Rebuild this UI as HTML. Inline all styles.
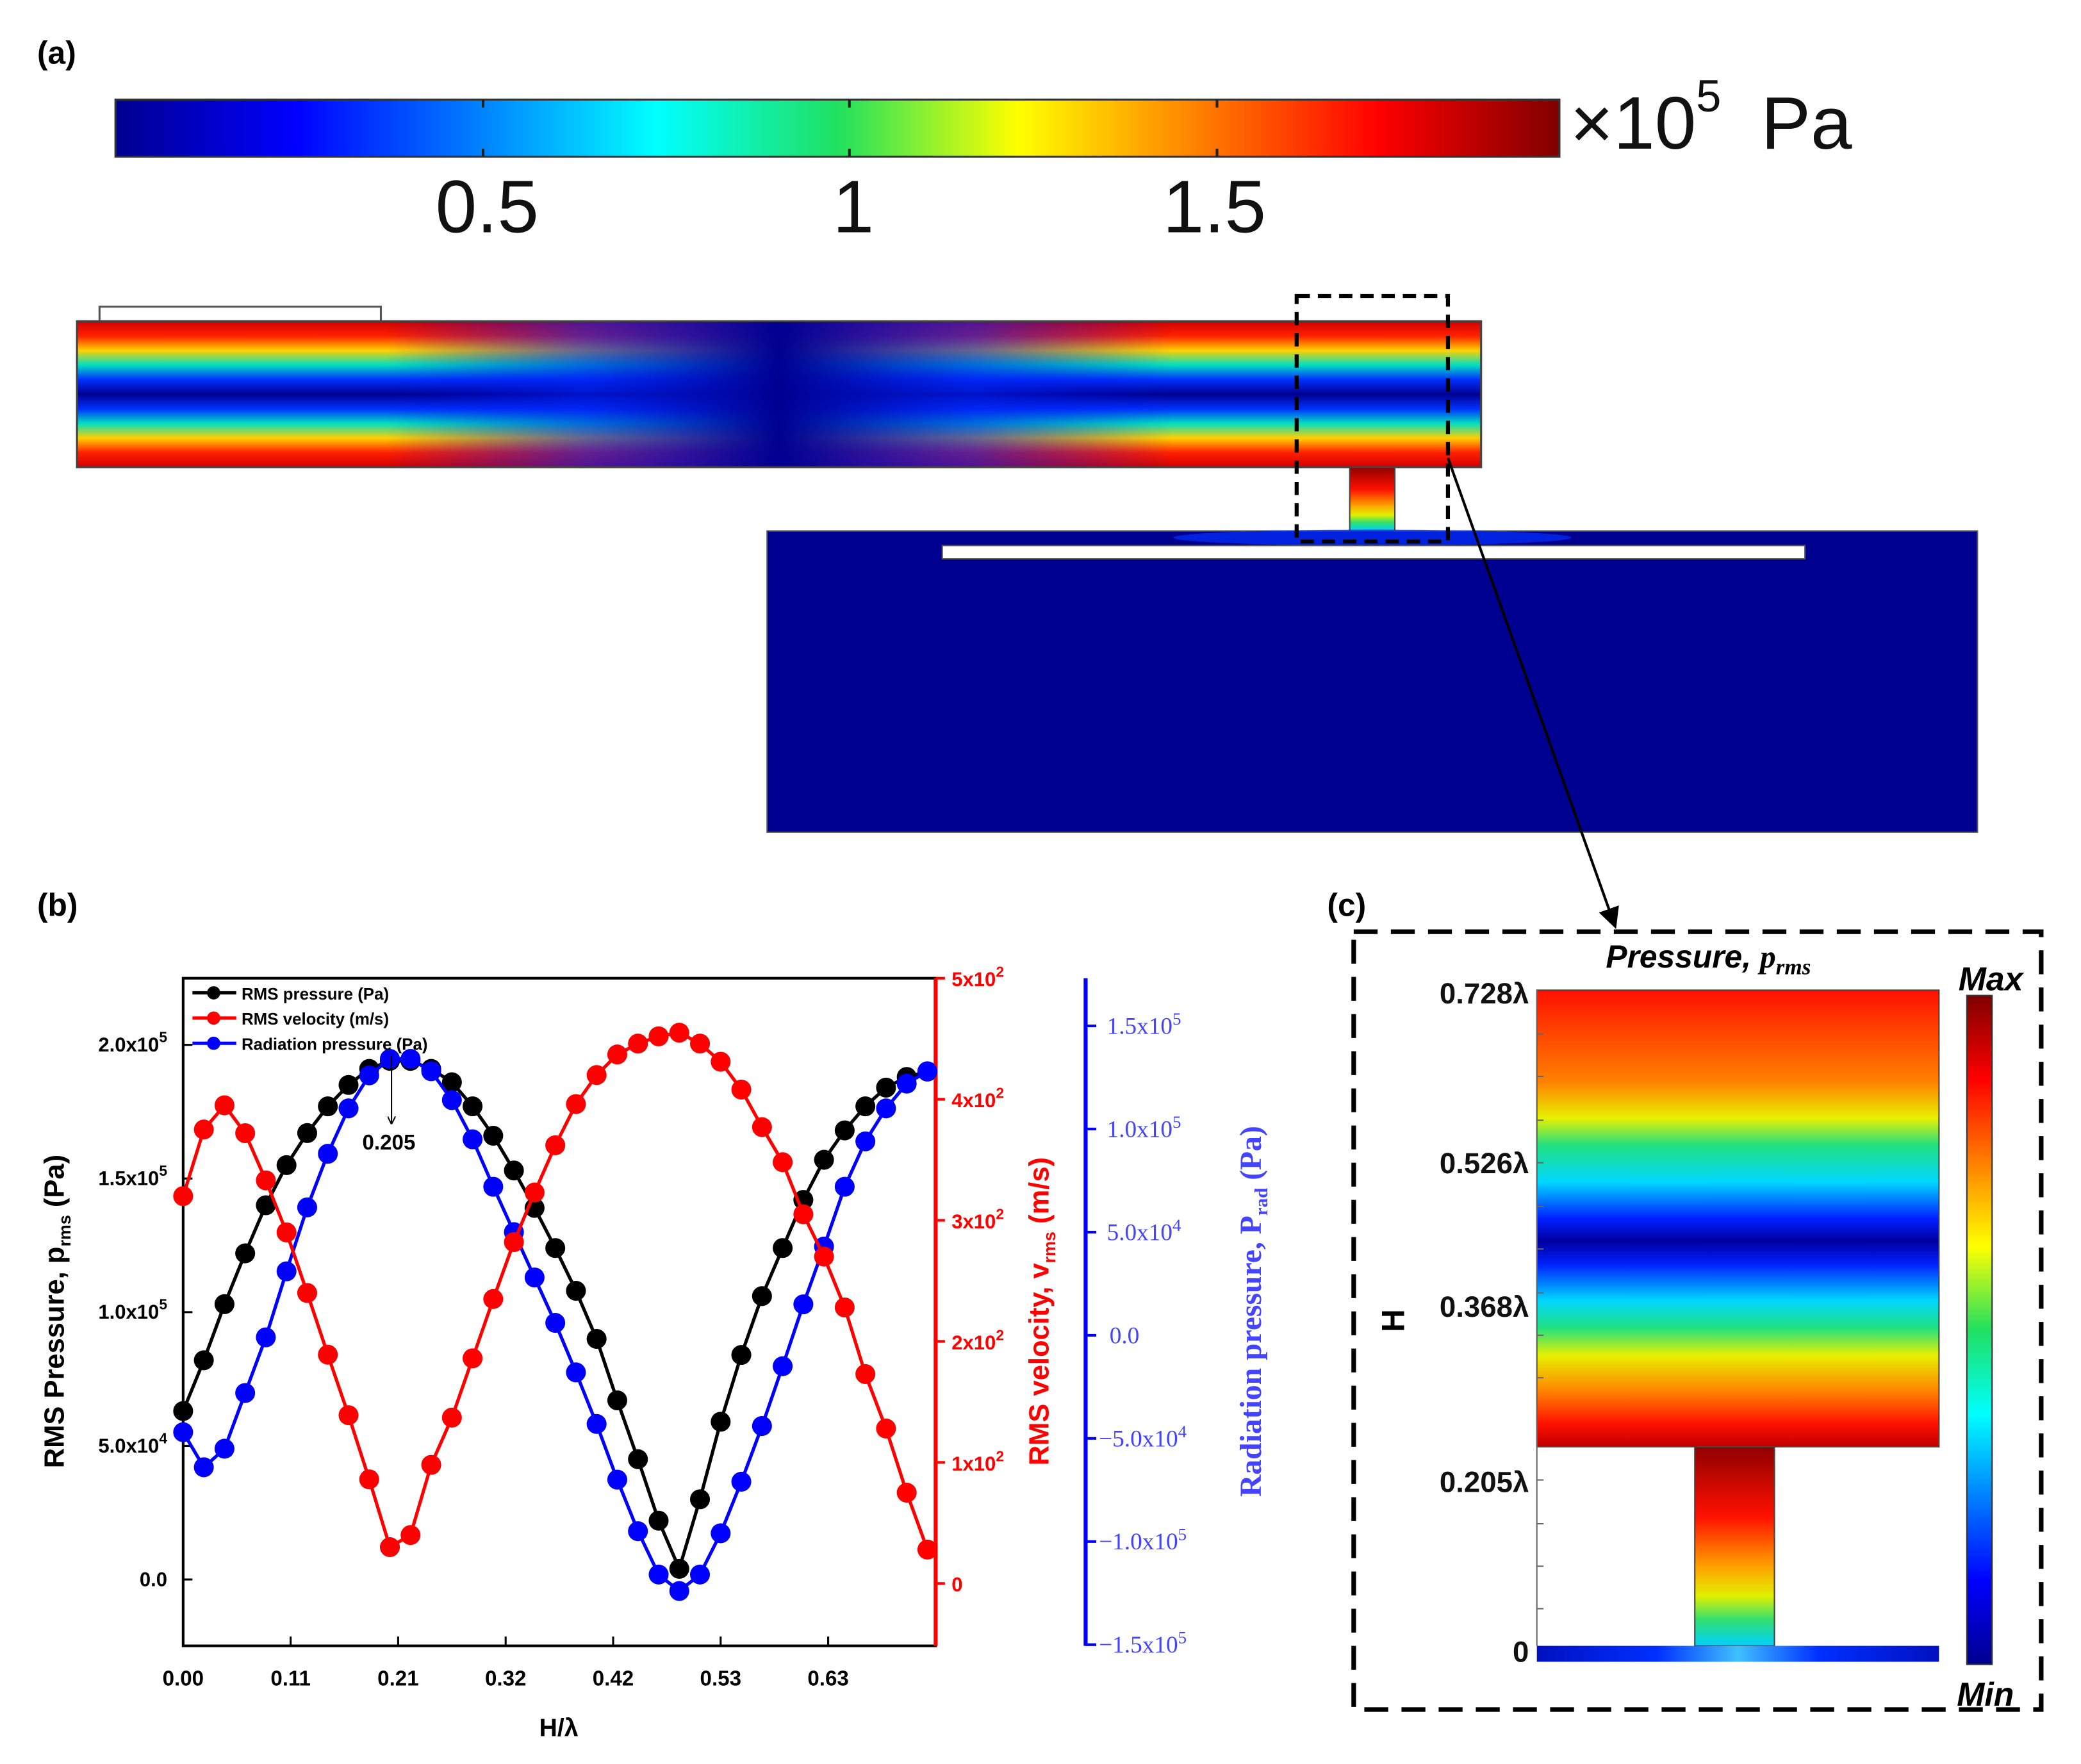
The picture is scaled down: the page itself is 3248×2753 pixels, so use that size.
<!DOCTYPE html>
<html><head><meta charset="utf-8"><style>
html,body{margin:0;padding:0;background:#fff;}
svg{display:block;}
text{font-family:"Liberation Sans",sans-serif;}
.serif{font-family:"Liberation Serif",serif;}
</style></head><body>
<svg id="fig" width="3248" height="2753" viewBox="0 0 1568 1329" xmlns="http://www.w3.org/2000/svg">
<defs>
<linearGradient id="jetH" x1="0" x2="1" y1="0" y2="0">
<stop offset="0" stop-color="#00008f"/><stop offset="0.125" stop-color="#0000ff"/><stop offset="0.375" stop-color="#00ffff"/><stop offset="0.5" stop-color="#20e060"/><stop offset="0.625" stop-color="#ffff00"/><stop offset="0.875" stop-color="#ff0000"/><stop offset="1" stop-color="#800000"/></linearGradient>
<linearGradient id="jetV" x1="0" x2="0" y1="1" y2="0">
<stop offset="0" stop-color="#00008f"/><stop offset="0.125" stop-color="#0000ff"/><stop offset="0.375" stop-color="#00ffff"/><stop offset="0.5" stop-color="#20e060"/><stop offset="0.625" stop-color="#ffff00"/><stop offset="0.875" stop-color="#ff0000"/><stop offset="1" stop-color="#800000"/></linearGradient>
<linearGradient id="tube" x1="0" x2="0" y1="0" y2="1">
<stop offset="0" stop-color="#d00000"/><stop offset="0.1" stop-color="#ff2000"/><stop offset="0.2" stop-color="#ffd000"/><stop offset="0.3" stop-color="#00e0c0"/><stop offset="0.4" stop-color="#0030ff"/><stop offset="0.5" stop-color="#000090"/><stop offset="0.6" stop-color="#0030ff"/><stop offset="0.7" stop-color="#00e0c0"/><stop offset="0.8" stop-color="#ffd000"/><stop offset="0.9" stop-color="#ff2000"/><stop offset="1" stop-color="#d00000"/></linearGradient>
<linearGradient id="tubeMask" x1="0" x2="1" y1="0" y2="0">
<stop offset="0" stop-color="#0010e0" stop-opacity="0"/><stop offset="0.22" stop-color="#0010e0" stop-opacity="0"/><stop offset="0.36" stop-color="#0020f0" stop-opacity="0.6"/><stop offset="0.5" stop-color="#000090" stop-opacity="1"/><stop offset="0.64" stop-color="#0020f0" stop-opacity="0.6"/><stop offset="0.78" stop-color="#0010e0" stop-opacity="0"/><stop offset="1" stop-color="#0010e0" stop-opacity="0"/></linearGradient>
<linearGradient id="cTop" x1="0" x2="0" y1="0" y2="1">
<stop offset="0" stop-color="#ff1000"/><stop offset="0.2" stop-color="#ff8000"/><stop offset="0.28" stop-color="#e8f000"/><stop offset="0.34" stop-color="#20e080"/><stop offset="0.42" stop-color="#00d8ff"/><stop offset="0.5" stop-color="#0020ff"/><stop offset="0.55" stop-color="#0000a0"/><stop offset="0.6" stop-color="#0020ff"/><stop offset="0.68" stop-color="#00d8ff"/><stop offset="0.74" stop-color="#20e080"/><stop offset="0.8" stop-color="#e8f000"/><stop offset="0.88" stop-color="#ff8000"/><stop offset="0.95" stop-color="#ff1000"/><stop offset="1" stop-color="#c00000"/></linearGradient>
<linearGradient id="cStem" x1="0" x2="0" y1="0" y2="1">
<stop offset="0" stop-color="#900000"/><stop offset="0.35" stop-color="#ff1000"/><stop offset="0.6" stop-color="#ffa000"/><stop offset="0.75" stop-color="#e0f000"/><stop offset="0.87" stop-color="#30e070"/><stop offset="1" stop-color="#00d0ff"/></linearGradient>
<linearGradient id="cBase" x1="0" x2="1" y1="0" y2="0">
<stop offset="0" stop-color="#0010c0"/><stop offset="0.3" stop-color="#0030ff"/><stop offset="0.5" stop-color="#40c0ff"/><stop offset="0.7" stop-color="#0030ff"/><stop offset="1" stop-color="#0010c0"/></linearGradient>
<marker id="ah" markerWidth="8" markerHeight="8" refX="7" refY="4" orient="auto"><path d="M0,0 L8,4 L0,8 z" fill="#000"/></marker>
<marker id="ahs" markerWidth="6" markerHeight="6" refX="5" refY="3" orient="auto"><path d="M0,0 L6,3 L0,6" fill="none" stroke="#000" stroke-width="1"/></marker>
</defs>

<!-- Panel (a) -->
<text x="28" y="48" font-size="24" font-weight="bold">(a)</text>
<rect x="87" y="75" width="1088" height="43" fill="url(#jetH)" stroke="#333" stroke-width="1.5"/>
<g stroke="#222" stroke-width="2">
<line x1="364" y1="75" x2="364" y2="81"/><line x1="364" y1="112" x2="364" y2="118"/>
<line x1="640" y1="75" x2="640" y2="81"/><line x1="640" y1="112" x2="640" y2="118"/>
<line x1="917" y1="75" x2="917" y2="81"/><line x1="917" y1="112" x2="917" y2="118"/></g>
<text x="367" y="175" font-size="56" text-anchor="middle" fill="#111">0.5</text>
<text x="643" y="175" font-size="56" text-anchor="middle" fill="#111">1</text>
<text x="915" y="175" font-size="56" text-anchor="middle" fill="#111">1.5</text>
<text x="1183" y="112" font-size="56" fill="#111">×10<tspan font-size="34" dy="-28">5</tspan><tspan dy="28" dx="30">Pa</tspan></text>

<rect x="75" y="231" width="212" height="11" fill="#fff" stroke="#555" stroke-width="1.5"/>
<rect x="58" y="242" width="1058" height="110" fill="url(#tube)"/>
<rect x="58" y="242" width="1058" height="110" fill="url(#tubeMask)"/>
<rect x="58" y="242" width="1058" height="110" fill="none" stroke="#444" stroke-width="1.5"/>
<rect x="1017" y="352" width="34" height="48" fill="url(#cStem)" stroke="#444" stroke-width="1"/>
<rect x="578" y="400" width="912" height="227" fill="#000090" stroke="#555" stroke-width="1"/>
<ellipse cx="1034" cy="405" rx="150" ry="6" fill="#0030ff" opacity="0.7"/>
<rect x="710" y="411" width="650" height="10" fill="#fff" stroke="#555" stroke-width="1"/>
<rect x="977" y="223" width="114" height="185" fill="none" stroke="#000" stroke-width="3" stroke-dasharray="10,6"/>
<line x1="1091" y1="345" x2="1217" y2="698" stroke="#000" stroke-width="2" marker-end="url(#ah)"/>

<!-- Panel (b) -->
<text x="28" y="690" font-size="24" font-weight="bold">(b)</text>
<g id="chart"></g>

<!-- Panel (c) -->
<text x="1000" y="690" font-size="24" font-weight="bold">(c)</text>
<rect x="1020" y="702" width="518" height="586" fill="none" stroke="#000" stroke-width="3.5" stroke-dasharray="18,10"/>
<text x="1210" y="729" font-size="24" font-weight="bold" font-style="italic">Pressure, <tspan class="serif">p</tspan><tspan class="serif" font-size="17" dy="5">rms</tspan></text>
<rect x="1158" y="746" width="303" height="344" fill="url(#cTop)" stroke="#444" stroke-width="1"/>
<rect x="1277" y="1090" width="60" height="150" fill="url(#cStem)" stroke="#444" stroke-width="1"/>
<rect x="1158" y="1240" width="303" height="12" fill="url(#cBase)"/>
<line x1="1158" y1="746" x2="1158" y2="1240" stroke="#666" stroke-width="1"/>
<g stroke="#666" stroke-width="1">
<line x1="1158" y1="779" x2="1163" y2="779"/><line x1="1158" y1="811" x2="1163" y2="811"/><line x1="1158" y1="844" x2="1163" y2="844"/><line x1="1158" y1="876" x2="1163" y2="876"/><line x1="1158" y1="909" x2="1163" y2="909"/><line x1="1158" y1="941" x2="1163" y2="941"/><line x1="1158" y1="974" x2="1163" y2="974"/><line x1="1158" y1="1006" x2="1163" y2="1006"/><line x1="1158" y1="1038" x2="1163" y2="1038"/><line x1="1158" y1="1115" x2="1163" y2="1115"/><line x1="1158" y1="1148" x2="1163" y2="1148"/><line x1="1158" y1="1180" x2="1163" y2="1180"/><line x1="1158" y1="1212" x2="1163" y2="1212"/></g>
<g font-size="22" font-weight="bold" text-anchor="end" fill="#111">
<text x="1152" y="756">0.728λ</text>
<text x="1152" y="884">0.526λ</text>
<text x="1152" y="992">0.368λ</text>
<text x="1152" y="1124">0.205λ</text>
<text x="1152" y="1252">0</text></g>
<text x="0" y="0" font-size="24" font-weight="bold" text-anchor="middle" transform="translate(1058,995) rotate(-90)">H</text>
<rect x="1482" y="750" width="19" height="504" fill="url(#jetV)" stroke="#333" stroke-width="1"/>
<text x="1500" y="746" font-size="25" font-weight="bold" font-style="italic" text-anchor="middle">Max</text>
<text x="1496" y="1285" font-size="25" font-weight="bold" font-style="italic" text-anchor="middle">Min</text>
</svg>
<script>
const xVals = [0,0.02,0.04,0.06,0.08,0.10,0.12,0.14,0.16,0.18,0.20,0.22,0.24,0.26,0.28,0.30,0.32,0.34,0.36,0.38,0.40,0.42,0.44,0.46,0.48,0.50,0.52,0.54,0.56,0.58,0.60,0.62,0.64,0.66,0.68,0.70,0.72];
const pressure = [0.63,0.82,1.03,1.22,1.40,1.55,1.67,1.77,1.85,1.91,1.94,1.94,1.91,1.86,1.77,1.66,1.53,1.39,1.24,1.08,0.90,0.67,0.45,0.22,0.04,0.30,0.59,0.84,1.06,1.24,1.42,1.57,1.68,1.77,1.84,1.88,1.90];
const velocity = [320,375,395,372,333,290,240,189,139,86,30,40,98,137,186,235,282,323,362,396,420,437,446,452,455,446,431,408,377,348,305,270,228,173,128,75,28];
const radiation = [-0.47,-0.64,-0.55,-0.28,-0.01,0.31,0.62,0.88,1.10,1.26,1.34,1.34,1.28,1.14,0.95,0.72,0.50,0.28,0.06,-0.18,-0.43,-0.70,-0.95,-1.16,-1.24,-1.16,-0.96,-0.71,-0.44,-0.15,0.15,0.43,0.72,0.94,1.10,1.22,1.28];
const xTicks = [0,0.104,0.208,0.312,0.416,0.52,0.624];
const xTickLabels = ["0.00","0.11","0.21","0.32","0.42","0.53","0.63"];
const leftTicks = [0,0.5,1.0,1.5,2.0];
const leftTickLabels = ["0.0","5.0x10","1.0x10","1.5x10","2.0x10"];
const leftTickExp = ["","4","5","5","5"];
const redTicks = [0,100,200,300,400,500];
const redTickLabels = ["0","1x10","2x10","3x10","4x10","5x10"];
const redTickExp = ["","2","2","2","2","2"];
const blueTicks = [-1.5,-1.0,-0.5,0,0.5,1.0,1.5];
const blueTickLabels = ["\u22121.5x10","\u22121.0x10","\u22125.0x10","0.0","5.0x10","1.0x10","1.5x10"];
const blueTickExp = ["5","5","4","","4","5","5"];

const NS="http://www.w3.org/2000/svg";
const g=document.getElementById('chart');
const X0=138,X1=705,Y0=737,Y1=1240;
function xs(v){return X0+v*(X1-X0)/0.728;}
function yL(v){return 1190-v*201.4;}
function yR(v){return 1193-v*0.912;}
function yB(v){return 1006-v*155.4;}
function mk(tag,attrs,parent){const e=document.createElementNS(NS,tag);for(const k in attrs)e.setAttribute(k,attrs[k]);(parent||g).appendChild(e);return e;}
function label(tx,main,exp,es){
  tx.appendChild(document.createTextNode(main));
  if(exp){const s=document.createElementNS(NS,'tspan');s.setAttribute('font-size',es);s.setAttribute('dy','-7');s.textContent=exp;tx.appendChild(s);}
}

let frame=mk('rect',{x:X0,y:Y0,width:X1-X0,height:Y1-Y0,fill:'none',stroke:'#000','stroke-width':2});


let ra=mk('line',{x1:X1,y1:Y0,x2:X1,y2:Y1,stroke:'#f00','stroke-width':3});


let ba=mk('line',{x1:818,y1:Y0,x2:818,y2:Y1,stroke:'#00f','stroke-width':3});



xTicks.forEach((t,i)=>{
  mk('line',{x1:xs(t),y1:Y1,x2:xs(t),y2:Y1-7,stroke:'#000','stroke-width':1.5});
  const tx=mk('text',{x:xs(t),y:Y1+30,'font-size':16,'font-weight':'bold','text-anchor':'middle'});
  tx.textContent=xTickLabels[i];
  
  
});
leftTicks.forEach((t,i)=>{
  mk('line',{x1:X0,y1:yL(t),x2:X0+7,y2:yL(t),stroke:'#000','stroke-width':1.5});
  const tx=mk('text',{x:126,y:yL(t)+5,'font-size':15,'font-weight':'bold','text-anchor':'end'});
  label(tx,leftTickLabels[i],leftTickExp[i],11);
  
  
});
redTicks.forEach((t,i)=>{
  mk('line',{x1:X1,y1:yR(t),x2:X1+7,y2:yR(t),stroke:'#f00','stroke-width':2});
  const tx=mk('text',{x:717,y:yR(t)+6,'font-size':15,'font-weight':'bold',fill:'#f00'});
  label(tx,redTickLabels[i],redTickExp[i],11);
  
  
});
blueTicks.forEach((t,i)=>{
  mk('line',{x1:818,y1:yB(t),x2:826,y2:yB(t),stroke:'#00f','stroke-width':2});
  const tx=mk('text',{x:t<0?828:(t===0?836:834),y:yB(t)+6,'font-size':18,fill:'#44f','class':'serif'});
  label(tx,blueTickLabels[i],blueTickExp[i],13);
  
  
});

function series(vals,yf,color,name){
  let d='';
  vals.forEach((v,i)=>{d+=(i?'L':'M')+xs(xVals[i]).toFixed(1)+','+yf(v).toFixed(1);});
  const p=mk('path',{d:d,fill:'none',stroke:color,'stroke-width':2.5});
  
  
  vals.forEach((v,i)=>{
    const c=mk('circle',{cx:xs(xVals[i]),cy:yf(v),r:7.5,fill:color});
    
    
  });
}
series(pressure,yL,'#000','rms-pressure');
series(radiation,yB,'#0000ff','radiation-pressure');
series(velocity,yR,'#ff0000','rms-velocity');

const leg=[['RMS pressure (Pa)','#000'],['RMS velocity (m/s)','#f00'],['Radiation pressure (Pa)','#00f']];
leg.forEach((l,i)=>{
  const y=748+i*19;
  mk('line',{x1:145,y1:y,x2:178,y2:y,stroke:l[1],'stroke-width':2.5});
  mk('circle',{cx:161,cy:y,r:5,fill:l[1]});
  const tx=mk('text',{x:182,y:y+5,'font-size':12.5,'font-weight':'bold'});
  tx.textContent=l[0];
  
  
});
mk('line',{x1:295,y1:795,x2:295,y2:846,stroke:'#000','stroke-width':1,'marker-end':'url(#ahs)'});
let an=mk('text',{x:293,y:866,'font-size':16,'font-weight':'bold','text-anchor':'middle'});
an.textContent='0.205';


let xt=mk('text',{x:421,y:1308,'font-size':19,'font-weight':'bold','text-anchor':'middle'});
xt.textContent='H/λ';


let lt=mk('text',{x:0,y:0,'font-size':21,'font-weight':'bold','text-anchor':'middle',transform:'translate(48,988) rotate(-90)'});
lt.innerHTML='RMS Pressure, p<tspan font-size="13" dy="5">rms</tspan><tspan dy="-5"> (Pa)</tspan>';


let rt=mk('text',{x:0,y:0,'font-size':21,'font-weight':'bold','text-anchor':'middle',fill:'#f00',transform:'translate(790,988) rotate(-90)'});
rt.innerHTML='RMS velocity, v<tspan font-size="13" dy="5">rms</tspan><tspan dy="-5"> (m/s)</tspan>';


let bt=mk('text',{x:0,y:0,'font-size':23,'font-weight':'bold','text-anchor':'middle',fill:'#44f','class':'serif',transform:'translate(950,988) rotate(-90)'});
bt.innerHTML='Radiation pressure, P<tspan font-size="14" dy="5">rad</tspan><tspan dy="-5"> (Pa)</tspan>';


</script>
</body></html>
